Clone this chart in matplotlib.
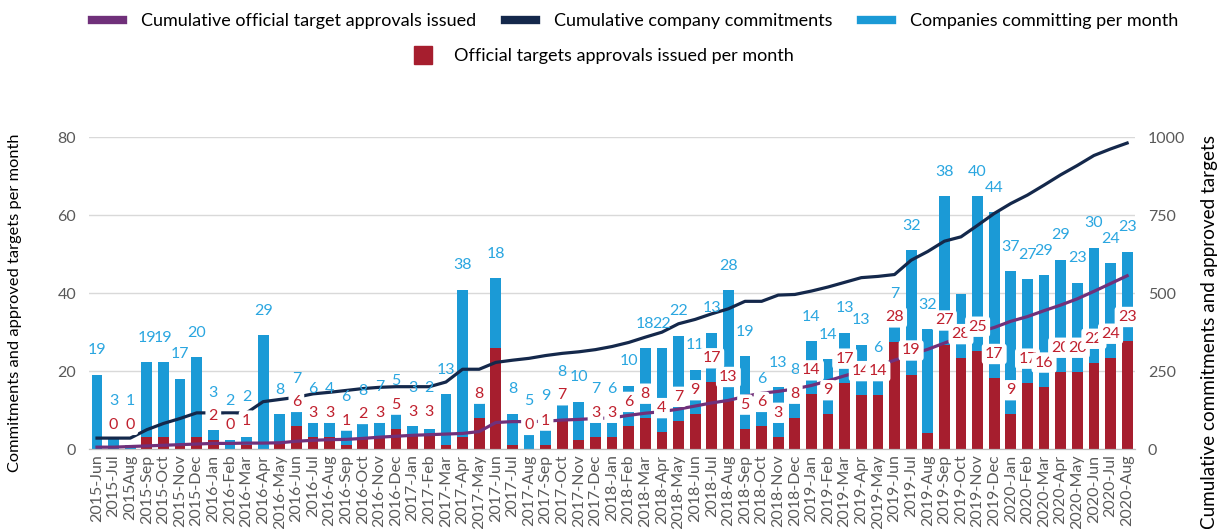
import matplotlib
matplotlib.use('Agg')
import matplotlib.pyplot as plt
from matplotlib.lines import Line2D
from matplotlib.patches import Patch
import numpy as np

plt.rcParams['font.family'] = ['Lato', 'DejaVu Sans']

months = ['2015-Jun', '2015-Jul', '2015Aug', '2015-Sep', '2015-Oct', '2015-Nov', '2015-Dec',
          '2016-Jan', '2016-Feb', '2016-Mar', '2016-Apr', '2016-May', '2016-Jun', '2016-Jul',
          '2016-Aug', '2016-Sep', '2016-Oct', '2016-Nov', '2016-Dec',
          '2017-Jan', '2017-Feb', '2017-Mar', '2017-Apr', '2017-May', '2017-Jun', '2017-Jul',
          '2017-Aug', '2017-Sep', '2017-Oct', '2017-Nov', '2017-Dec',
          '2018-Jan', '2018-Feb', '2018-Mar', '2018-Apr', '2018-May', '2018-Jun', '2018-Jul',
          '2018-Aug', '2018-Sep', '2018-Oct', '2018-Nov', '2018-Dec',
          '2019-Jan', '2019-Feb', '2019-Mar', '2019-Apr', '2019-May', '2019-Jun', '2019-Jul',
          '2019-Aug', '2019-Sep', '2019-Oct', '2019-Nov', '2019-Dec',
          '2020-Jan', '2020-Feb', '2020-Mar', '2020-Apr', '2020-May', '2020-Jun', '2020-Jul',
          '2020-Aug']

# monthly bars (left axis)
approved_month = [0, 0, 0, 3.1, 3.1, 1.1, 3.1, 2.2, 0, 1.1, 0, 1.5, 5.9, 3.1, 3.1, 1.1, 2.8, 3.1,
                  5.2, 3.4, 3.4, 1.1, 3.1, 8, 25.9, 1.1, 0, 1.1, 7.6, 2.2, 3.1, 3.1, 5.9, 8, 4.3,
                  7.2, 8.9, 17.1, 12.3, 5.2, 5.9, 3.1, 8, 14, 8.9, 17, 13.8, 13.8, 27.6, 19.1,
                  4.1, 26.8, 23.3, 25.2, 18.2, 8.9, 17, 16, 19.8, 19.8, 22.1, 23.4, 27.7]
bar_total = [19.1, 3.1, 1.1, 22.3, 22.3, 18.1, 23.5, 5.0, 2.2, 3.1, 29.2, 8.9, 10.7, 8.1, 6.9,
             6.3, 6.9, 9.7, 9.9, 5.9, 5.2, 14.1, 40.9, 12.9, 43.8, 9.1, 5.2, 7.4, 12.6, 12.1,
             7.6, 7.6, 16.2, 25.9, 25.9, 29.1, 20.3, 29.8, 40.8, 23.8, 10.6, 15.8, 12.8, 27.7,
             23.1, 29.9, 26.8, 18.4, 32.5, 51, 30.8, 64.9, 39.9, 64.9, 60.8, 45.6, 43.6, 44.6,
             48.6, 42.7, 51.7, 47.7, 50.7]

# cumulative lines (right axis)
cum_commit = [35, 35, 35, 62, 82, 98, 116, 116, 116, 116, 152, 159, 166, 177, 182, 188, 194,
              198, 200, 200, 200, 215, 256, 256, 278, 285, 291, 300, 307, 312, 319, 329, 342,
              359, 375, 402, 416, 434, 450, 474, 474, 494, 496, 507, 520, 535, 550, 554, 560,
              606, 634, 667, 681, 718, 756, 788, 815, 847, 880, 910, 942, 963, 982]
cum_approved = [6, 6, 8, 10, 12, 14, 16, 18, 18, 19, 19, 20, 25, 28, 30, 31, 34, 38, 41, 44,
                46, 48, 50, 56, 85, 88, 88, 89, 93, 95, 98, 100, 108, 115, 120, 128, 138, 148,
                156, 169, 179, 185, 193, 204, 219, 235, 250, 266, 285, 303, 320, 340, 360, 375,
                390, 410, 425, 444, 462, 482, 506, 531, 556]

# data labels as printed on the chart ('' = no label)
blue_labels = ['19', '3', '1', '19', '19', '17', '20', '3', '2', '2', '29', '8', '7', '6', '4',
               '6', '8', '7', '5', '3', '2', '13', '38', '', '18', '8', '5', '9', '8', '10', '7',
               '6', '10', '18', '22', '22', '11', '13', '28', '19', '6', '13', '8', '14', '14',
               '13', '13', '6', '7', '32', '32', '38', '', '40', '44', '37', '27', '29', '29',
               '23', '30', '24', '23']
red_labels = ['', '0', '0', '', '', '', '', '2', '0', '1', '', '', '6', '3', '3', '1', '2', '3',
              '5', '3', '3', '', '', '8', '', '', '0', '1', '7', '', '3', '3', '6', '8', '4', '7',
              '9', '17', '13', '5', '6', '3', '8', '14', '9', '17', '14', '14', '28', '19', '',
              '27', '28', '25', '17', '9', '17', '16', '20', '20', '22', '24', '23']

BLUE = '#1b9ad6'
RED = '#a61e2e'
NAVY = '#14284b'
PURPLE = '#70307a'
GREY = '#595959'

x = np.arange(len(months))
approved_month = np.array(approved_month)
bar_total = np.array(bar_total)

fig = plt.figure(figsize=(12.2, 5.29), dpi=100)
ax = fig.add_axes([0.0727, 0.1512, 0.858, 0.589])
ax2 = ax.twinx()

ax.bar(x, approved_month, width=0.65, color=RED, zorder=2)
ax.bar(x, bar_total - approved_month, bottom=approved_month, width=0.65, color=BLUE, zorder=2)

ax2.plot(x, cum_approved, color=PURPLE, lw=2.3, zorder=3)
ax2.plot(x, cum_commit, color=NAVY, lw=2.3, zorder=3)

# labels sit above the value, the blue ones pushed up to clear the red ones
for i in range(len(x)):
    ry = approved_month[i] + 6.2
    by = bar_total[i] + 6.3
    if red_labels[i]:
        by = max(by, ry + 6)
        ax2.text(x[i], ry, red_labels[i], transform=ax.transData, ha='center', va='center',
                 fontsize=11.5, color='#c0202e', zorder=6,
                 bbox=dict(boxstyle='round,pad=0.2', fc='white', ec='none'))
    if blue_labels[i]:
        ax2.text(x[i], by, blue_labels[i], transform=ax.transData, ha='center', va='center',
                 fontsize=11.5, color='#2aa6e0', zorder=5)

ax.set_xlim(-0.5, len(x) - 0.5)
ax.set_ylim(0, 80)
ax2.set_ylim(0, 1000)
ax.set_yticks([0, 20, 40, 60, 80])
ax2.set_yticks([0, 250, 500, 750, 1000])
ax.set_xticks(x)
ax.set_xticklabels(months, rotation=90, color=GREY)
ax.grid(axis='y', color='#d9d9d9', lw=1, zorder=0)
ax.set_axisbelow(True)
for a in (ax, ax2):
    for s in ['left', 'right', 'top']:
        a.spines[s].set_visible(False)
    a.spines['bottom'].set_color('#bfbfbf')
    a.tick_params(axis='both', length=0, labelsize=11.5, labelcolor=GREY)
ax.tick_params(axis='x', labelsize=11.5, pad=4)
ax.tick_params(axis='y', pad=9)
ax2.tick_params(axis='y', pad=9)

fig.text(15 / 1220, 1 - 303 / 529, 'Commitments and approved targets per month', rotation=90,
         ha='center', va='center', fontsize=11.8)
fig.text(1210 / 1220, 1 - 332 / 529, 'Cumulative commitments and approved targets', rotation=90,
         ha='center', va='center', fontsize=13.6)

h1 = [Line2D([], [], color=PURPLE, lw=6),
      Line2D([], [], color=NAVY, lw=6),
      Line2D([], [], color=BLUE, lw=6)]
fig.legend(h1, ['Cumulative official target approvals issued',
                'Cumulative company commitments', 'Companies committing per month'],
           loc='center', bbox_to_anchor=(635 / 1220, 1 - 21 / 529), ncol=3, frameon=False,
           fontsize=13, handlelength=1.7, columnspacing=1.6, handletextpad=1.0)
fig.legend([Patch(color=RED)], ['Official targets approvals issued per month'],
           loc='center', bbox_to_anchor=(604 / 1220, 1 - 55 / 529), frameon=False,
           fontsize=13, handlelength=1.0, handleheight=1.2, handletextpad=1.2)

fig.savefig('out.png', dpi=100)
